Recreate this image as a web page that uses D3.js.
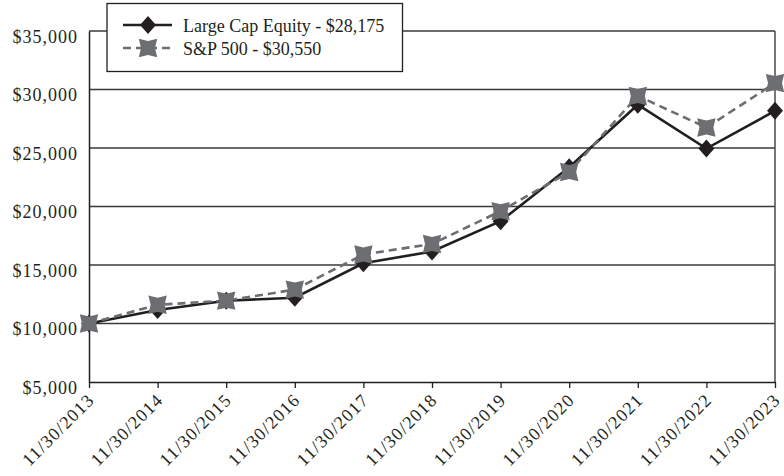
<!DOCTYPE html>
<html><head><meta charset="utf-8">
<script src="https://cdn.jsdelivr.net/npm/d3@7"></script>
<style>
body{margin:0;background:#fff;}
text{font-family:"Liberation Serif","Times New Roman",serif;fill:#231f20;}
</style></head>
<body><svg id="c" width="784" height="476"></svg>
<script>
const categories = ["11/30/2013","11/30/2014","11/30/2015","11/30/2016","11/30/2017","11/30/2018","11/30/2019","11/30/2020","11/30/2021","11/30/2022","11/30/2023"];
const largeCap = [10000, 11150, 11950, 12200, 15150, 16150, 18750, 23350, 28700, 24950, 28175];
const sp500 = [10000, 11600, 11950, 12900, 15900, 16800, 19600, 22950, 29450, 26750, 30550];
const yTicks = [5000, 10000, 15000, 20000, 25000, 30000, 35000];
const seriesNames = ["Large Cap Equity - $28,175", "S&P 500 - $30,550"];

const svg = d3.select("#c");
const x = d3.scalePoint().domain(categories).range([89, 775]);
const y = d3.scaleLinear().domain([5000, 35000]).range([382, 31]);
const fmt = v => "$" + d3.format(",")(v);

// gridlines
svg.append("g").selectAll("line").data(yTicks.filter(v => v > 5000)).join("line")
  .attr("x1", 89).attr("x2", 775).attr("y1", d => y(d)).attr("y2", d => y(d))
  .attr("stroke", "#3a3a3a").attr("stroke-width", 1.3);

// right border
svg.append("line").attr("x1", 775).attr("x2", 775).attr("y1", y(35000)).attr("y2", y(5000))
  .attr("stroke", "#4a4a4a").attr("stroke-width", 1.5);

// y axis
const yAxis = svg.append("g").attr("transform", "translate(89,0)")
  .call(d3.axisLeft(y).tickValues(yTicks).tickFormat(fmt).tickSize(0).tickPadding(11));
yAxis.select(".domain").attr("stroke", "#231f20").attr("stroke-width", 1.5);
yAxis.selectAll("text").attr("font-size", 18).attr("letter-spacing", "1px")
  .attr("dy", "0.62em").attr("font-family", "Liberation Serif");

// x axis
const xAxis = svg.append("g").attr("transform", "translate(0,382)")
  .call(d3.axisBottom(x).tickSize(6).tickSizeOuter(0));
xAxis.select(".domain").attr("stroke", "#231f20").attr("stroke-width", 1.5);
xAxis.selectAll(".tick line").attr("stroke", "#231f20").attr("stroke-width", 1.3);
xAxis.selectAll("text").attr("font-size", 18).attr("letter-spacing", "1.2px")
  .attr("font-family", "Liberation Serif")
  .attr("text-anchor", "end").attr("y", 0).attr("dy", 0)
  .attr("transform", "translate(6,19) rotate(-45)");

// lines
const line = d3.line().x((d, i) => x(categories[i])).y(d => y(d));
svg.append("path").datum(largeCap).attr("d", line).attr("fill", "none")
  .attr("stroke", "#231f20").attr("stroke-width", 2.6);
svg.append("path").datum(sp500).attr("d", line).attr("fill", "none")
  .attr("stroke", "#6d6e71").attr("stroke-width", 2.6).attr("stroke-dasharray", "8,5");

const diamond = "M0,-9L8,0L0,9L-8,0Z";
function starPath(R, r) {
  let p = [];
  for (let k = 0; k < 8; k++) {
    const a = Math.PI / 4 * k - Math.PI / 4;
    const rad = (k % 2 === 0) ? R : r;
    p.push([rad * Math.cos(a), rad * Math.sin(a)]);
  }
  return "M" + p.map(q => q[0].toFixed(2) + "," + q[1].toFixed(2)).join("L") + "Z";
}
const star = starPath(13, 7);

svg.append("g").selectAll("path").data(largeCap).join("path")
  .attr("d", diamond).attr("fill", "#231f20")
  .attr("transform", (d, i) => `translate(${x(categories[i])},${y(d)})`);
svg.append("g").selectAll("path").data(sp500).join("path")
  .attr("d", star).attr("fill", "#6d6e71")
  .attr("transform", (d, i) => `translate(${x(categories[i])},${y(d)})`);

// legend
const lg = svg.append("g");
lg.append("rect").attr("x", 107).attr("y", 3.5).attr("width", 295.5).attr("height", 68)
  .attr("fill", "#fff").attr("stroke", "#231f20").attr("stroke-width", 1.3);
lg.append("line").attr("x1", 123).attr("x2", 172).attr("y1", 25).attr("y2", 25)
  .attr("stroke", "#231f20").attr("stroke-width", 2.6);
lg.append("path").attr("d", diamond).attr("fill", "#231f20").attr("transform", "translate(148,25)");
lg.append("line").attr("x1", 123).attr("x2", 172).attr("y1", 48).attr("y2", 48)
  .attr("stroke", "#6d6e71").attr("stroke-width", 2.6).attr("stroke-dasharray", "8,5");
lg.append("path").attr("d", star).attr("fill", "#6d6e71").attr("transform", "translate(148,48)");
lg.selectAll("text.lt").data(seriesNames).join("text").attr("class", "lt")
  .attr("x", 183).attr("y", (d, i) => 32 + i * 23).attr("font-size", 18).text(d => d);
</script></body></html>
